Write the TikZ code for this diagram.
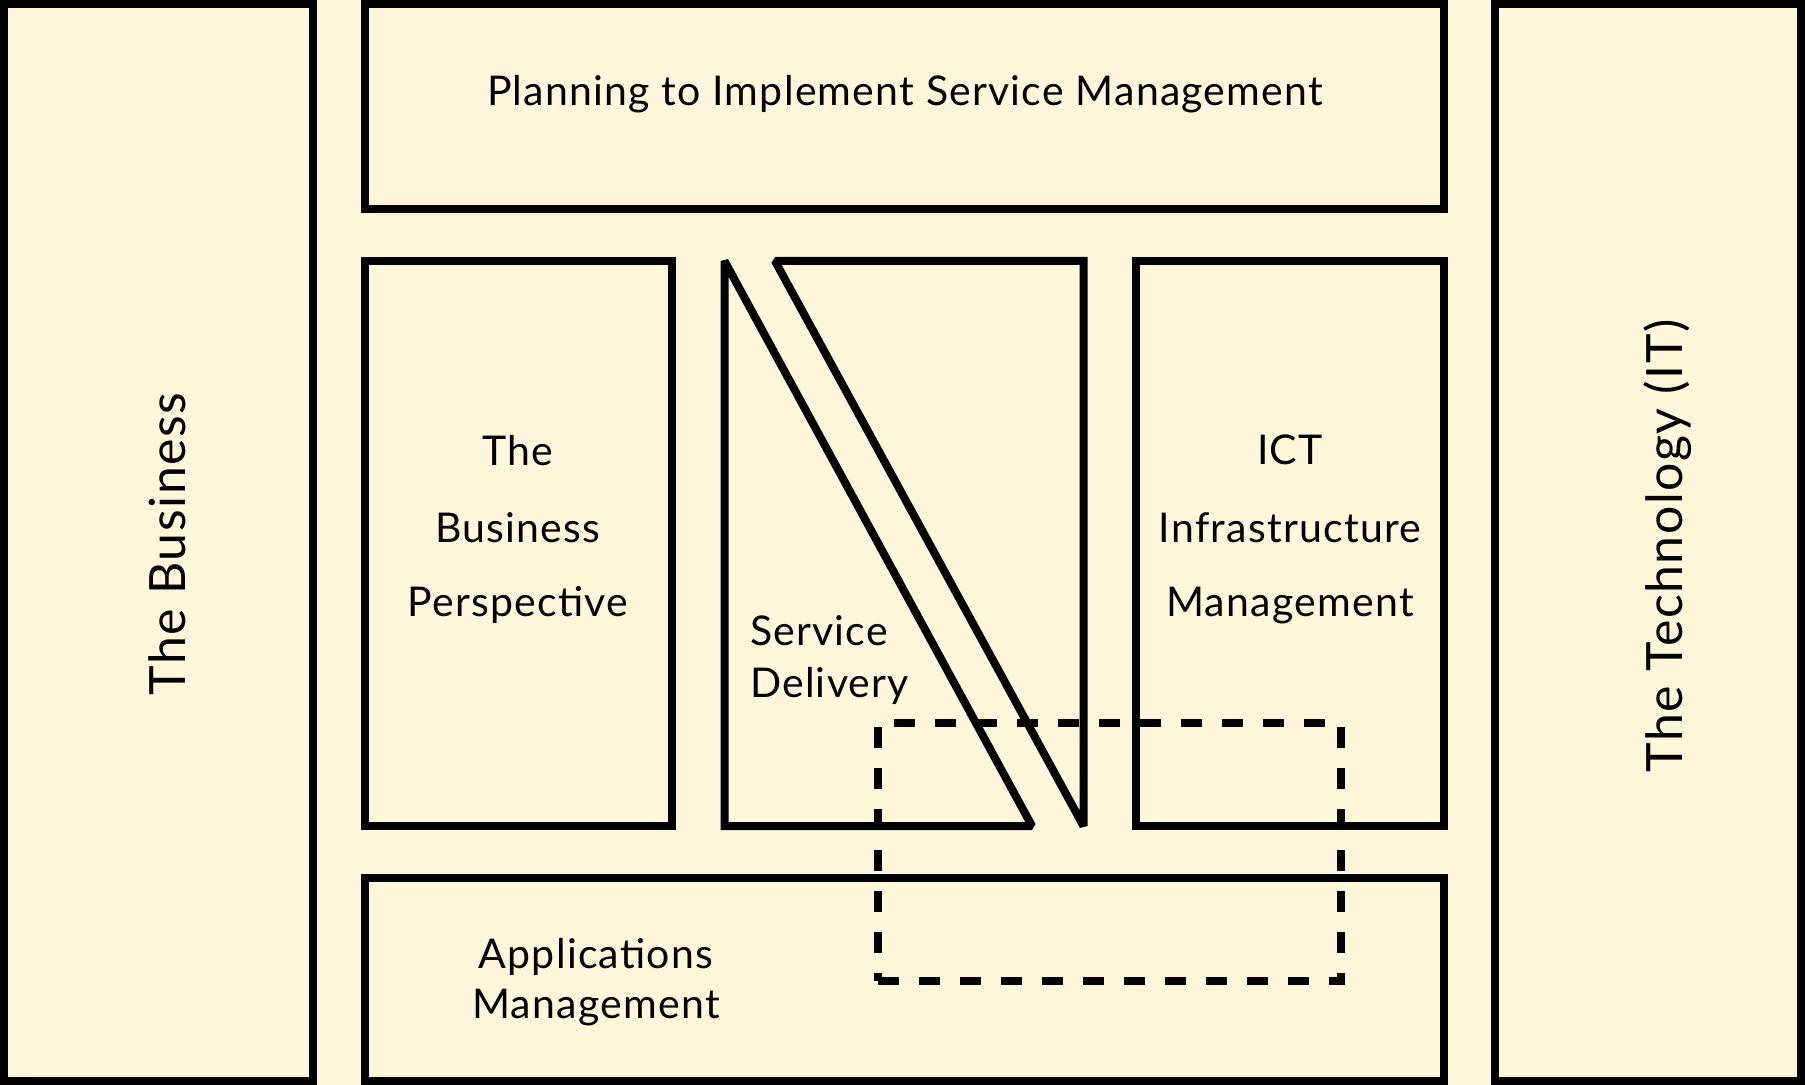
\documentclass[tikz,border=0pt]{standalone}
\usepackage{fontspec}
\setmainfont{Lato}[LetterSpace=3]
\definecolor{bgcream}{RGB}{254,247,220}
\begin{document}
\begin{tikzpicture}[x=0.5pt,y=-0.5pt,
  box/.style={draw=black,line width=4pt,inner sep=0pt,outer sep=0pt,line join=miter,miter limit=1.5},
  dashbox/.style={draw=black,line width=4pt,dash pattern=on 10.5pt off 10pt,inner sep=0pt,outer sep=0pt},
  lbl/.style={inner sep=0pt,outer sep=0pt,font=\fontsize{20.5}{24}\selectfont},
  vlbl/.style={inner sep=0pt,outer sep=0pt,rotate=90,anchor=base,font=\fontsize{25}{29}\selectfont}]
\fill[bgcream] (0,0) rectangle (1805,1085);
\useasboundingbox (0,0) rectangle (1805,1085);

% outer columns
\node[box,minimum width=154.25pt,minimum height=538.5pt] (biz) at (158.25,542.5) {};
\node[box,minimum width=153pt,minimum height=538.5pt] (tech) at (1648,542.5) {};
% inner boxes
\node[box,minimum width=539.5pt,minimum height=102.75pt] (plan) at (904,106.75) {};
\node[box,minimum width=153.75pt,minimum height=282.5pt] (bp) at (518.25,543.5) {};
\node[box,minimum width=153.75pt,minimum height=282.5pt] (ict) at (1289.75,543.5) {};
\node[box,minimum width=539.5pt,minimum height=101.5pt] (apps) at (904,979.5) {};

% service delivery split shapes
\coordinate (sdA) at (724.5,261);
\coordinate (sdB) at (724.5,826);
\coordinate (sdC) at (1032,826);
\coordinate (sdD) at (775,261);
\coordinate (sdE) at (1083.5,261);
\coordinate (sdF) at (1083.5,826);
\draw[box] (sdA) -- (sdB) -- (sdC) -- cycle;
\draw[box] (sdD) -- (sdE) -- (sdF) -- cycle;

% dashed overlap
\node[dashbox,minimum width=231.75pt,minimum height=129pt] (ovl) at (1109.25,852) {};

% labels
\node[lbl,anchor=base] (tplan) at (905,106) {Planning to Implement Service Management};
\node[lbl,anchor=base] (tbp1) at (518,466) {The};
\node[lbl,anchor=base] (tbp2) at (518,543) {Business};
\node[lbl,anchor=base] (tbp3) at (518,617) {Perspective};
\node[lbl,anchor=base] (tict1) at (1290,465) {ICT};
\node[lbl,anchor=base] (tict2) at (1290,543) {Infrastructure};
\node[lbl,anchor=base] (tict3) at (1290,617) {Management};
\node[lbl,anchor=base west] (tsd1) at (750,645) {Service};
\node[lbl,anchor=base west] (tsd2) at (750,697) {Delivery};
\node[lbl,anchor=base] (tapp1) at (596,968) {Applications};
\node[lbl,anchor=base] (tapp2) at (596,1018) {Management};
\node[vlbl] (tbiz) at (185,544) {The Business};
\node[vlbl] (ttech) at (1682,546) {The Technology (IT)};
\end{tikzpicture}
\end{document}
